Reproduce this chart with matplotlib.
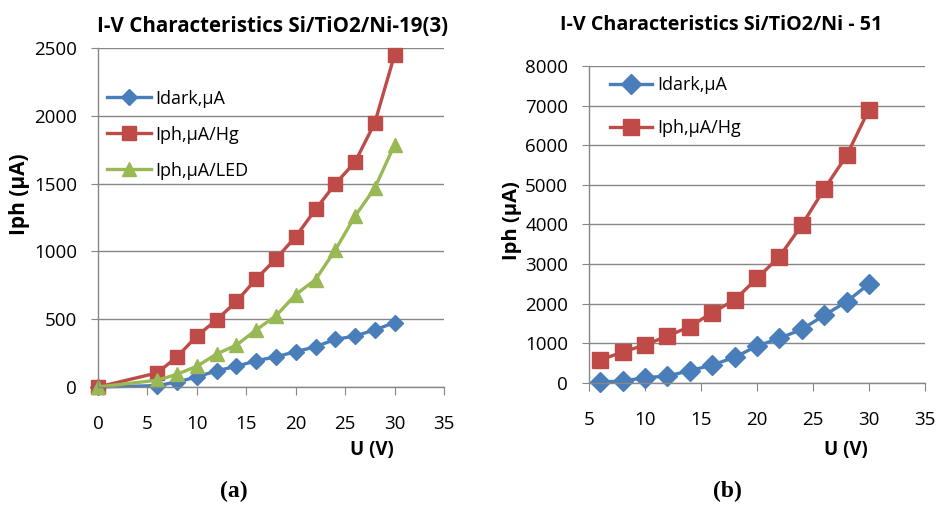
import matplotlib
matplotlib.use("Agg")
import matplotlib.pyplot as plt

plt.rcParams['font.family'] = ['Open Sans', 'DejaVu Sans']

# panel (a): Si/TiO2/Ni-19(3)
u_a = [0, 6, 8, 10, 12, 14, 16, 18, 20, 22, 24, 26, 28, 30]
idark_a = [0, 10, 37, 74, 119, 153, 193, 223, 260, 297, 351, 376, 421, 475]
iph_hg_a = [0, 104, 223, 376, 495, 631, 797, 945, 1109, 1309, 1498, 1659, 1949, 2451]
iph_led_a = [0, 50, 94, 153, 243, 309, 421, 525, 681, 792, 1010, 1260, 1468, 1787]

# panel (b): Si/TiO2/Ni - 51
u_b = [6, 8, 10, 12, 14, 16, 18, 20, 22, 24, 26, 28, 30]
idark_b = [17, 42, 126, 168, 303, 446, 640, 927, 1120, 1348, 1702, 2047, 2494]
iph_hg_b = [573, 775, 952, 1179, 1415, 1769, 2089, 2637, 3184, 3983, 4890, 5740, 6900]

BLUE = '#4A7EBB'
RED = '#BE4B48'
GREEN = '#98B954'
GRID = '#878787'


def style_axes(ax, xticks, yticks):
    ax.set_xticks(xticks)
    ax.set_yticks(yticks)
    for s in ['top', 'right']:
        ax.spines[s].set_visible(False)
    for s in ['left', 'bottom']:
        ax.spines[s].set_color(GRID)
        ax.spines[s].set_linewidth(1.0)
    ax.yaxis.grid(True, color=GRID, linewidth=1.0)
    ax.set_axisbelow(True)
    ax.tick_params(axis='x', direction='out', length=6, color=GRID, labelsize=13.5, pad=14.5)
    ax.tick_params(axis='y', direction='out', length=5, color=GRID, labelsize=13.5, pad=10)


fig = plt.figure(figsize=(9.37, 5.05), dpi=100)

# (a)
ax1 = fig.add_axes([0.1046, 0.2337, 0.3693, 0.6713])
ax1.plot(u_a, idark_a, color=BLUE, lw=2.4, marker='D', ms=8.5, label='Idark,μA', clip_on=False)
ax1.plot(u_a, iph_hg_a, color=RED, lw=2.4, marker='s', ms=10, label='Iph,μA/Hg', clip_on=False)
ax1.plot(u_a, iph_led_a, color=GREEN, lw=2.4, marker='^', ms=10, label='Iph,μA/LED', clip_on=False)
ax1.set_xlim(0, 35)
ax1.set_ylim(0, 2500)
style_axes(ax1, range(0, 36, 5), range(0, 2501, 500))
ax1.legend(loc='upper left', bbox_to_anchor=(-0.02, 0.925), frameon=False, fontsize=13,
           handlelength=2.4, handletextpad=0.28, labelspacing=1.0)
fig.text(0.2914, 0.947, 'I-V Characteristics Si/TiO2/Ni-19(3)', ha='center', va='center',
         fontsize=14.8, fontweight='bold')
fig.text(0.021, 0.615, 'Iph (μA)', rotation=90, ha='center', va='center', fontsize=15, fontweight='bold')
fig.text(0.397, 0.109, 'U (V)', ha='center', va='center', fontsize=13.5, fontweight='bold')
fig.text(0.250, 0.026, '(a)', ha='center', va='center', fontsize=17, fontweight='bold',
         family='Liberation Serif')

# (b)
ax2 = fig.add_axes([0.6286, 0.2422, 0.3586, 0.6271])
ax2.plot(u_b, idark_b, color=BLUE, lw=2.4, marker='D', ms=10, label='Idark,μA', clip_on=False)
ax2.plot(u_b, iph_hg_b, color=RED, lw=2.4, marker='s', ms=12, label='Iph,μA/Hg', clip_on=False)
ax2.set_xlim(5, 35)
ax2.set_ylim(0, 8000)
style_axes(ax2, range(5, 36, 5), range(0, 8001, 1000))
ax2.legend(loc='upper left', bbox_to_anchor=(0.015, 1.019), frameon=False, fontsize=13,
           handlelength=2.3, handletextpad=0.28, labelspacing=1.37)
fig.text(0.7695, 0.950, 'I-V Characteristics Si/TiO2/Ni - 51', ha='center', va='center',
         fontsize=14.2, fontweight='bold')
fig.text(0.546, 0.564, 'Iph (μA)', rotation=90, ha='center', va='center', fontsize=14.5, fontweight='bold')
fig.text(0.903, 0.109, 'U (V)', ha='center', va='center', fontsize=13.5, fontweight='bold')
fig.text(0.776, 0.026, '(b)', ha='center', va='center', fontsize=17, fontweight='bold',
         family='Liberation Serif')

fig.savefig('out.png', dpi=100)
